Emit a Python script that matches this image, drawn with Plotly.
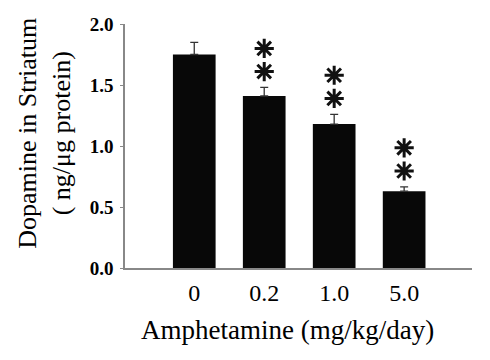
import plotly.graph_objects as go

categories = ["0", "0.2", "1.0", "5.0"]
means = [1.75, 1.41, 1.18, 0.63]
sem_plus = [0.10, 0.07, 0.08, 0.035]
significant = [False, True, True, True]

x_pos = list(range(len(categories)))

fig = go.Figure()
fig.add_trace(go.Bar(
    x=x_pos, y=means,
    marker=dict(color="#080808", line=dict(width=0)),
    width=0.61,
    error_y=dict(type="data", symmetric=False, array=sem_plus,
                 arrayminus=[0] * len(means), color="#333333",
                 thickness=1.3, width=4),
    showlegend=False, hoverinfo="skip",
))

# significance asterisks (two stacked) above error bars
ax, ay = [], []
for i, s in enumerate(significant):
    if s:
        top = means[i] + sem_plus[i]
        ax += [i, i]
        ay += [top + 0.13, top + 0.32]
fig.add_trace(go.Scatter(
    x=ax, y=ay, mode="markers",
    marker=dict(symbol="asterisk-open", size=16, color="#111111",
                line=dict(color="#111111", width=3)),
    showlegend=False, hoverinfo="skip",
))

serif = "Liberation Serif, Times New Roman, serif"
fig.update_layout(
    width=490, height=360,
    margin=dict(l=125, r=18, t=24, b=92),
    paper_bgcolor="white", plot_bgcolor="white",
    xaxis=dict(range=[-0.99, 3.97], tickvals=x_pos, ticktext=categories,
               showline=True, linecolor="#888888", linewidth=1.5,
               ticks="", showgrid=False, zeroline=False,
               tickfont=dict(family=serif, size=24, color="black"),
               ticklabelstandoff=2),
    yaxis=dict(range=[0, 2.0], tickvals=[0, 0.5, 1.0, 1.5, 2.0],
               ticktext=["0.0", "0.5", "1.0", "1.5", "2.0"],
               showline=True, linecolor="#888888", linewidth=1.5,
               ticks="outside", ticklen=3, tickcolor="#888888",
               showgrid=False, zeroline=False,
               ticklabelstandoff=3,
               tickfont=dict(family=serif, size=19, color="black",
                             weight="bold")),
    annotations=[
        dict(text="Dopamine in Striatum<br>( ng/μg protein)",
             x=0, y=0.55, xref="paper", yref="paper", xshift=-80,
             xanchor="center", yanchor="middle", textangle=-90,
             showarrow=False, font=dict(family=serif, size=26, color="black")),
        dict(text="Amphetamine (mg/kg/day)",
             x=0.467, y=-0.254, xref="paper", yref="paper",
             xanchor="center", yanchor="middle",
             showarrow=False, font=dict(family=serif, size=27, color="black")),
    ],
)

fig.write_html("out.html", config={"displayModeBar": False},
               post_script="document.body.style.margin='0';")
